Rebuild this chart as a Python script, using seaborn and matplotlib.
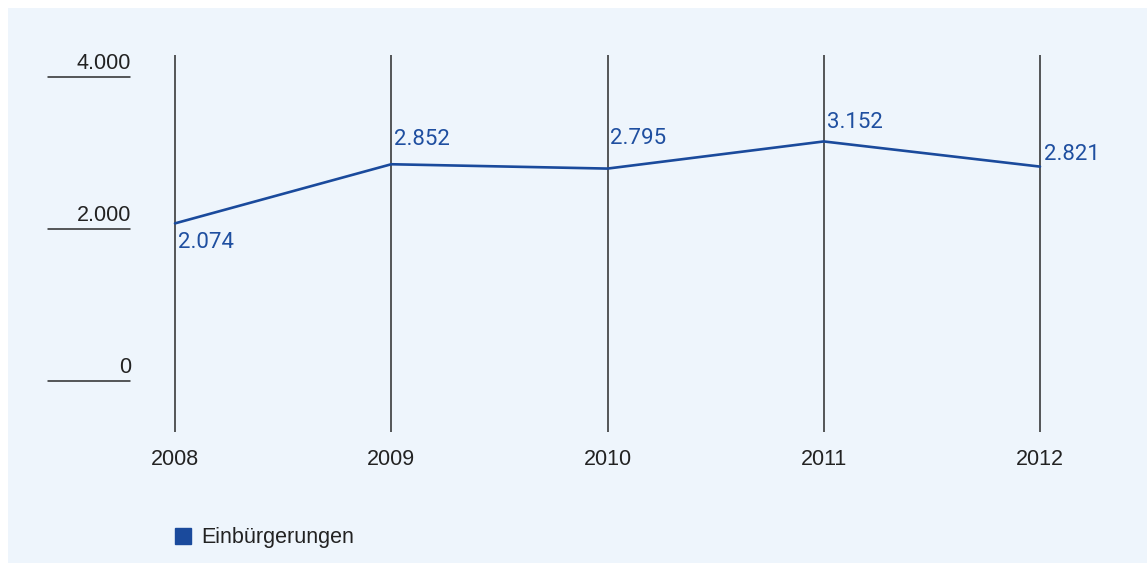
# Einbürgerungen 2008-2012 - line chart

import pandas as pd
import matplotlib
matplotlib.use("Agg")
import matplotlib.pyplot as plt
from matplotlib.lines import Line2D
import seaborn as sns

# data
years = [2008, 2009, 2010, 2011, 2012]
values = [2074, 2852, 2795, 3152, 2821]
y_ticks = [0, 2000, 4000]
series_name = "Einbürgerungen"

# label offsets (points) for the value labels
label_offsets = [(2, -14), (2, 18), (2, 22), (2, 14), (3, 9)]

bg = "#EEF5FC"
blue = "#1A4A9C"
label_blue = "#1F4FA0"
dark = "#2A2A2A"
gray_font = ["Liberation Sans", "DejaVu Sans"]

sns.set_theme(style="white")
plt.rcParams["font.family"] = ["Roboto", "DejaVu Sans"]

df = pd.DataFrame({"year": years, "value": values})

W, H = 1147, 563
fig = plt.figure(figsize=(W / 100, H / 100), dpi=100, facecolor="white")
ax = fig.add_axes([8 / W, 0, (W - 8) / W, (H - 8) / H])
ax.set_facecolor(bg)

# pixel -> data mapping
px_per_year = 216.25
px_per_unit = 0.076
ax.set_xlim(2008 - (175 - 8) / px_per_year, 2008 + (W - 175) / px_per_year)
ax.set_ylim(-(H - 381) / px_per_unit, (381 - 8) / px_per_unit)

# vertical year lines
ax.vlines(years, -671, 4289, color=dark, lw=1.1, zorder=1)

# y tick lines and labels
for t in y_ticks:
    ax.axhline(t, xmin=(48 - 8) / (W - 8), xmax=(130 - 8) / (W - 8), color=dark, lw=1.1)
    ax.annotate(f"{t:,}".replace(",", "."), xy=((131 - 8) / (W - 8), t),
                xycoords=("axes fraction", "data"), xytext=(0, 2.5),
                textcoords="offset points", ha="right", va="bottom",
                fontsize=15.5, color="#222222", family=gray_font)

# x labels
for yr in years:
    ax.text(yr, -1039, str(yr), ha="center", va="center", fontsize=15.5,
            color="#222222", family=gray_font)

sns.lineplot(data=df, x="year", y="value", color=blue, lw=1.9, ax=ax, legend=False, zorder=3)

for yr, v, off in zip(years, values, label_offsets):
    ax.annotate(f"{v:,}".replace(",", "."), xy=(yr, v), xytext=off,
                textcoords="offset points", ha="left", va="center",
                fontsize=16, color=label_blue)

ax.set_xlabel("")
ax.set_ylabel("")
ax.set_xticks([])
ax.set_yticks([])
for s in ax.spines.values():
    s.set_visible(False)

handle = Line2D([], [], marker="s", ls="", color=blue, markersize=11.5)
ax.legend([handle], [series_name], loc="center left",
          bbox_to_anchor=(172 / W, 1 - 538 / H), bbox_transform=fig.transFigure,
          frameon=False, handlelength=1.0, handletextpad=0.35,
          borderpad=0, borderaxespad=0, labelcolor="#222222",
          prop={"family": gray_font, "size": 15.5})

fig.savefig("out.png", dpi=100, facecolor="white")
